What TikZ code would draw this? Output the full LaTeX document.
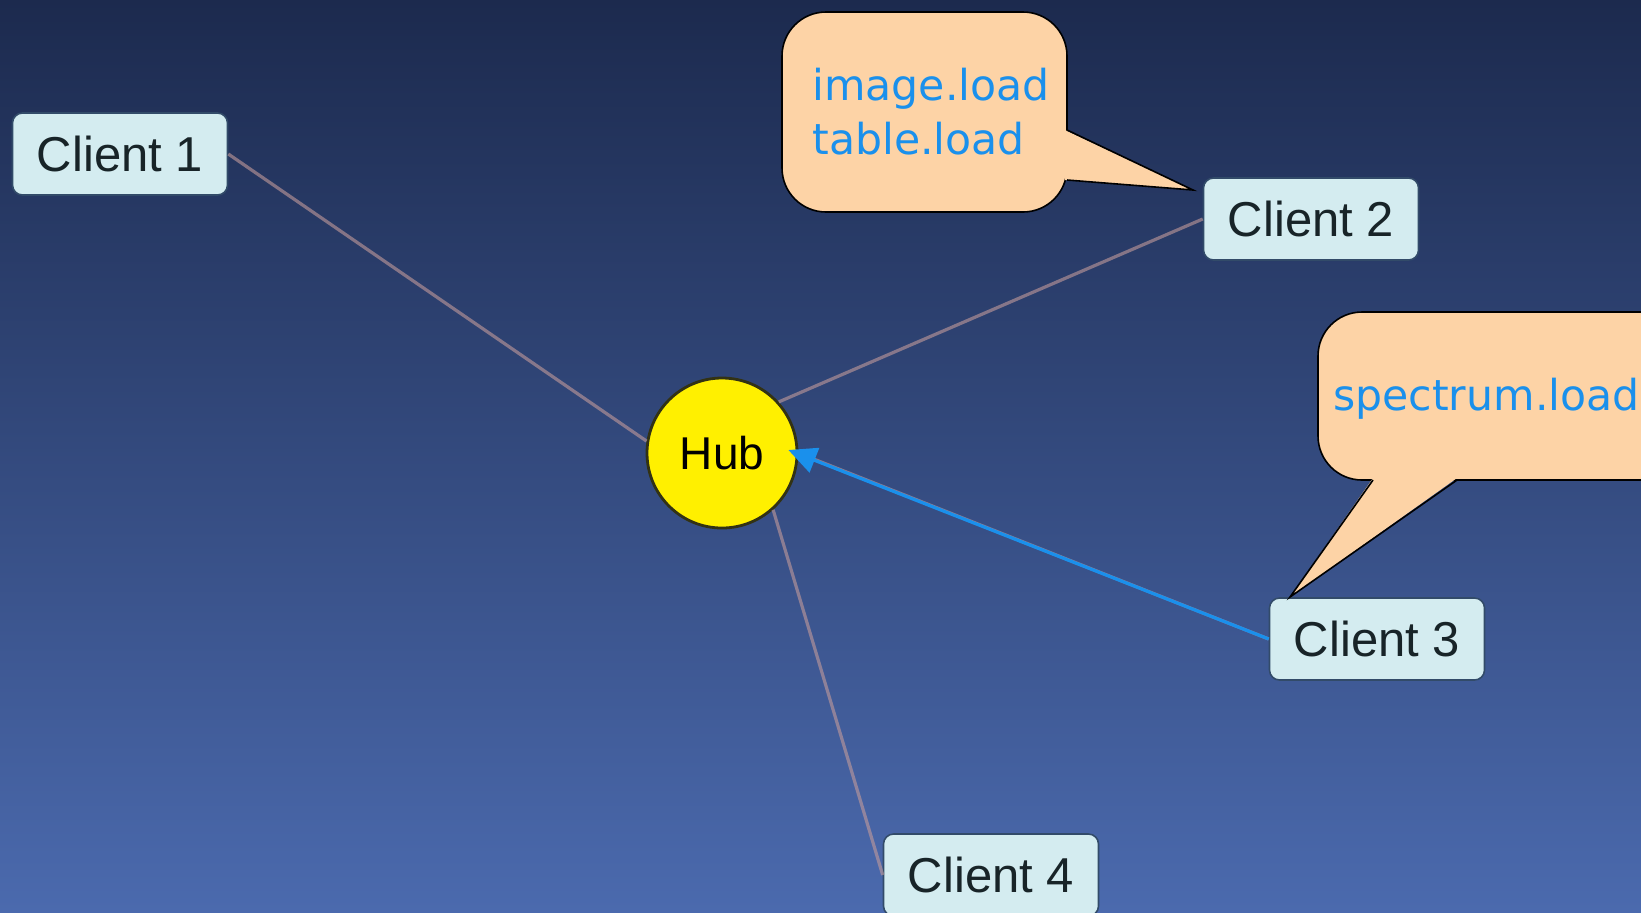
\documentclass[tikz,border=0pt]{standalone}
\usepackage{fontspec}
\setmainfont{Liberation Sans}
\newfontfamily\callfont{DejaVu Sans}
\usetikzlibrary{arrows.meta,calc}

\definecolor{bgtop}{RGB}{28,42,78}
\definecolor{bgbot}{RGB}{75,106,174}
\definecolor{boxfill}{RGB}{212,236,240}
\definecolor{boxedge}{RGB}{50,75,105}
\definecolor{boxtext}{RGB}{24,36,40}
\definecolor{hubfill}{RGB}{255,240,0}
\definecolor{hubedge}{RGB}{50,50,20}
\definecolor{linkcol}{RGB}{195,155,155}
\definecolor{msgblue}{RGB}{26,144,236}
\definecolor{peach}{RGB}{253,211,166}

\tikzset{
  clientbox/.style={draw=boxedge, line width=0.8pt, fill=boxfill, rounded corners=5pt,
    minimum width=107.5pt, minimum height=41pt, inner sep=0pt,
    text=boxtext, font=\fontsize{24.5}{28}\selectfont},
  hubnode/.style={circle, draw=hubedge, line width=1.4pt, fill=hubfill,
    minimum size=75pt, inner sep=0pt, text=black, font=\fontsize{23}{27}\selectfont},
  link/.style={draw=linkcol, line width=1.6pt, opacity=0.6},
  msg/.style={draw=msgblue, line width=1.6pt, -{Triangle[length=14pt,width=13pt]}},
  bubble/.style={fill=peach, draw=black, line width=0.8pt},
  calltext/.style={anchor=base west, inner sep=0pt, text=msgblue,
    font=\callfont\fontsize{21.3}{27.5}\selectfont},
}

\begin{document}
\begin{tikzpicture}[x=0.5pt, y=-0.5pt]
  % backdrop
  \useasboundingbox (0,0) rectangle (1641,912);
  \clip (0,0) rectangle (1641,912);
  \shade[top color=bgtop, bottom color=bgbot] (0,0) rectangle (1641,912);

  % nodes
  \node[hubnode] (hub) at (722,453) {Hub};
  \node[clientbox] (c1) at (120,154) {Client 1};
  \node[clientbox] (c2) at (1311,219) {Client 2};
  \node[clientbox] (c3) at (1377,639) {Client 3};
  \node[clientbox] (c4) at (991,875) {Client 4};

  % links to the hub
  \draw[link] (c1.east) -- (hub.171);
  \draw[link] (c2.west) -- (hub.42);
  \draw[link] (c3.west) -- (hub.east);
  \draw[link] (c4.west) -- (hub.-48);

  % message sent from Client 3
  \draw[msg] (c3.west) -- ($(hub.east)+(-10,-3)$);

  % speech bubble of Client 2
  \draw[bubble, rounded corners=22pt] (782,12) rectangle (1067,212);
  \fill[peach] (1065,130) -- (1193,190) -- (1065,180) -- cycle;
  \draw[black, line width=0.8pt, line join=miter] (1067,130) -- (1193,190) -- (1067,180);
  \node[calltext] (m1) at (812,100) {image.load};
  \node[calltext] (m2) at (812,154) {table.load};

  % speech bubble of Client 3
  \draw[bubble, rounded corners=22pt] (1318,312) rectangle (1740,480);
  \fill[peach] (1373,478) -- (1290,597) -- (1457,478) -- cycle;
  \draw[black, line width=0.8pt, line join=miter] (1373,480) -- (1290,597) -- (1457,480);
  \node[calltext] (m3) at (1333,410) {spectrum.load};
\end{tikzpicture}
\end{document}
